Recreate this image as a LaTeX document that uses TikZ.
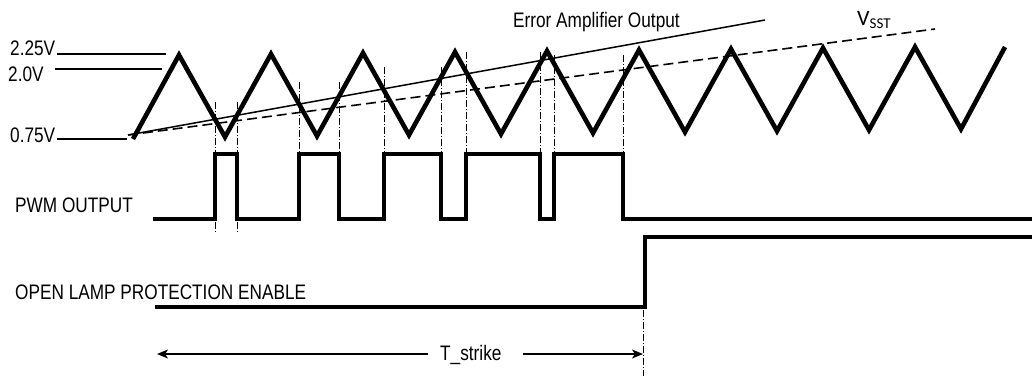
\documentclass[tikz,border=0pt]{standalone}
\usepackage{fontspec}
\setmainfont{Liberation Sans}
\newfontfamily\narrowfont[FakeStretch=0.82]{Liberation Sans}
\newfontfamily\calfont{Carlito}
\usetikzlibrary{arrows.meta}
\tikzset{
  wave/.style={line width=4.6pt, line join=miter},
  sig/.style={line width=3.8pt, line join=miter},
  thinl/.style={line width=1.5pt},
  vsst/.style={line width=1.6pt, dash pattern=on 10pt off 5pt},
  ddot/.style={line width=1pt, dash pattern=on 7pt off 2pt on 1pt off 2pt},
  lbl/.style={font=\narrowfont\fontsize{21}{24}\selectfont, inner sep=0pt, anchor=base west},
  arr/.style={line width=1.3pt, -{Stealth[length=11pt,width=9pt,inset=3pt]}}
}
\begin{document}
\begin{tikzpicture}[x=1pt,y=-1pt]
\useasboundingbox (0,0) rectangle (1032,376);

% level labels
\node[lbl] (l225) at (10,55) {2.25V};
\node[lbl] (l20) at (8,81) {2.0V};
\node[lbl] (l075) at (10,142) {0.75V};
\draw[thinl] (57,54) -- (166,54);
\draw[thinl] (55,69) -- (162,69);
\draw[thinl] (57,139) -- (127,139);

% signal labels
\node[lbl] (pwm) at (15,212) {PWM OUTPUT};
\node[lbl] (olp) at (15,299) {OPEN LAMP PROTECTION ENABLE};
\node[lbl] (ea) at (513,27) {Error Amplifier Output};
\node[inner sep=0pt, anchor=base west] (vsst) at (857,25)
  {\calfont\fontsize{22}{24}\selectfont V\raisebox{-3pt}{\fontsize{15}{16}\selectfont SST}};

% error amplifier and VSST ramps
\coordinate (rs) at (128,135);
\coordinate (eaend) at (765,20);
\coordinate (vend) at (935,29);
\draw[thinl] (rs) -- (eaend);
\draw[vsst] (rs) -- (vend);

% triangle
\draw[wave] (133,139) -- (179,55) -- (225,137) -- (271,54) -- (317,136)
  -- (363,53) -- (409,135) -- (455,52) -- (501,134) -- (547,51)
  -- (593,133) -- (639,50) -- (685,132) -- (731,49) -- (777,131)
  -- (823,48) -- (869,130) -- (915,47) -- (961,129) -- (1005,47);

% dash-dot verticals
\draw[ddot] (215,102) -- (215,232);
\draw[ddot] (237,102) -- (237,232);
\draw[ddot] (299,82) -- (299,154);
\draw[ddot] (339,82) -- (339,154);
\draw[ddot] (384,67) -- (384,154);
\draw[ddot] (441,67) -- (441,154);
\draw[ddot] (466,52) -- (466,154);
\draw[ddot] (540,52) -- (540,154);
\draw[ddot] (554,55) -- (554,154);
\draw[ddot] (623,55) -- (623,154);
\draw[ddot] (643,310) -- (643,376);

% PWM output
\draw[sig] (153,219) -- (215,219) -- (215,154) -- (237,154) -- (237,219)
  -- (299,219) -- (299,154) -- (339,154) -- (339,219)
  -- (384,219) -- (384,154) -- (441,154) -- (441,219)
  -- (466,219) -- (466,154) -- (540,154) -- (540,219)
  -- (554,219) -- (554,154) -- (623,154) -- (623,219) -- (1032,219);

% open lamp protection enable
\draw[sig] (155,307) -- (645,307) -- (645,237) -- (1032,237);

% T_strike
\node[lbl] (ts) at (440,360) {T\_strike};
\coordinate (tl) at (157,354);
\coordinate (tr) at (643,354);
\draw[arr] (428,354) -- (tl);
\draw[arr] (523,354) -- (tr);
\end{tikzpicture}
\end{document}
